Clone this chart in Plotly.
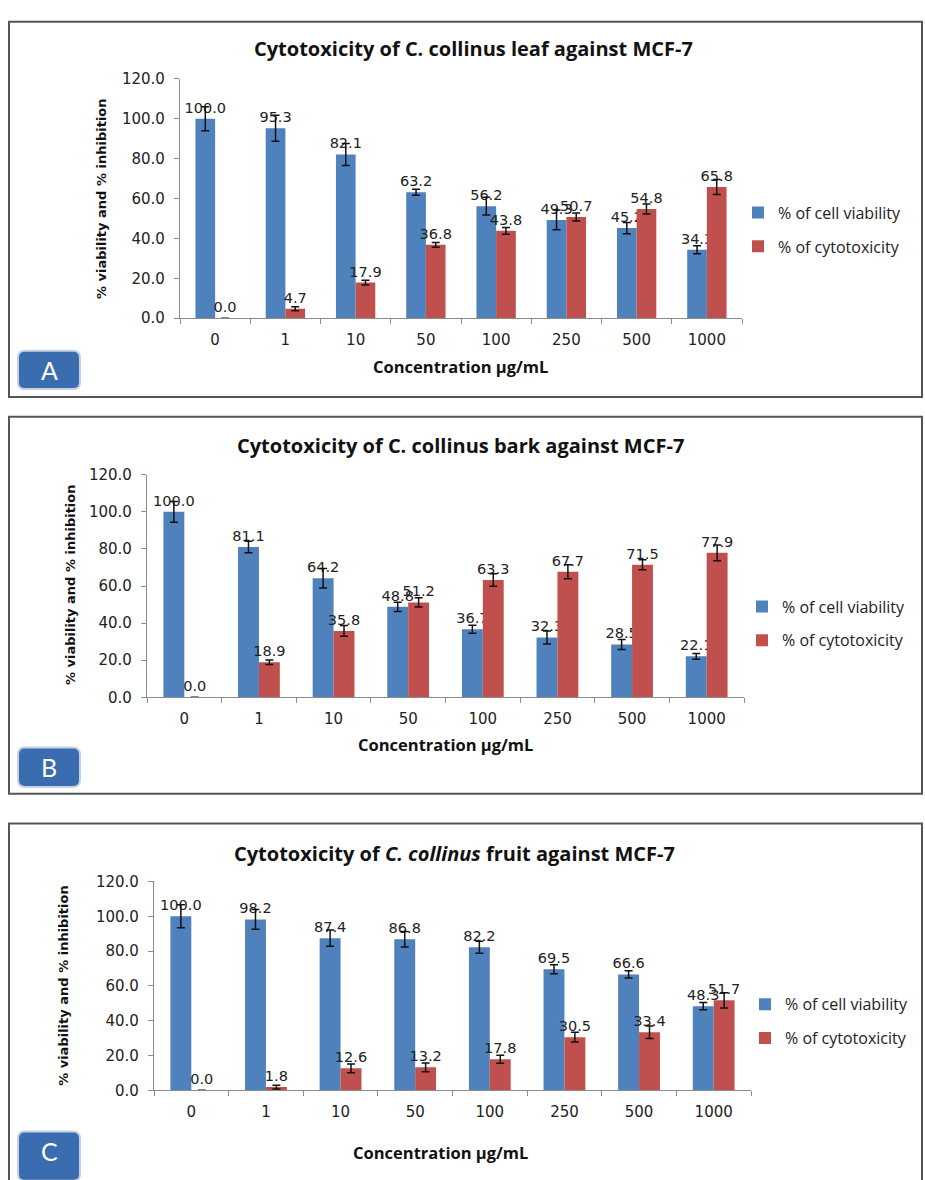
import plotly.graph_objects as go

# Concentrations tested (µg/mL)
concentrations = ["0", "1", "10", "50", "100", "250", "500", "1000"]

# Panel A – leaf extract
leaf_viability = [100.0, 95.3, 82.1, 63.2, 56.2, 49.3, 45.2, 34.3]
leaf_viability_err = [6.0, 6.5, 5.5, 1.5, 4.4, 5.0, 2.8, 2.0]
leaf_cytotox = [0.0, 4.7, 17.9, 36.8, 43.8, 50.7, 54.8, 65.8]
leaf_cytotox_err = [0.0, 1.0, 1.2, 1.2, 1.7, 2.0, 2.5, 3.7]

# Panel B – bark extract
bark_viability = [100.0, 81.1, 64.2, 48.8, 36.7, 32.3, 28.5, 22.1]
bark_viability_err = [5.6, 3.1, 5.2, 2.5, 2.2, 3.5, 2.7, 1.5]
bark_cytotox = [0.0, 18.9, 35.8, 51.2, 63.3, 67.7, 71.5, 77.9]
bark_cytotox_err = [0.0, 1.2, 2.9, 2.5, 3.4, 3.8, 2.7, 4.2]

# Panel C – fruit extract
fruit_viability = [100.0, 98.2, 87.4, 86.8, 82.2, 69.5, 66.6, 48.3]
fruit_viability_err = [6.6, 5.7, 4.7, 4.5, 3.5, 2.6, 2.1, 2.1]
fruit_cytotox = [0.0, 1.8, 12.6, 13.2, 17.8, 30.5, 33.4, 51.7]
fruit_cytotox_err = [0.0, 1.1, 2.5, 2.5, 2.3, 2.8, 3.6, 4.4]

titles = [
    "Cytotoxicity of C. collinus leaf against MCF-7",
    "Cytotoxicity of C. collinus bark against MCF-7",
    "Cytotoxicity of <i>C. collinus</i> fruit against MCF-7",
]
panel_letters = ["A", "B", "C"]
series_names = ["% of cell viability", "% of cytotoxicity"]
y_ticks = [0, 20, 40, 60, 80, 100, 120]

W, H = 925, 1180
BLUE = "#4f81bd"
RED = "#c0504d"
NUM_FONT = "DejaVu Sans"
TXT_FONT = "Open Sans"


def px(x):
    return x / W


def py(y):
    return 1 - y / H


# pixel layout of each panel: plot area, frame, title, legend, letter box
panels = [
    dict(plot=(180, 742, 71, 314), frame=(9, 922, 13, 394), title=(473, 40),
         xtitle=(460, 363), ytitle=(101, 193), legend=(738, 224), box=(18, 80, 347, 386)),
    dict(plot=(147, 744, 473, 699), frame=(9, 922, 414, 797), title=(460, 443),
         xtitle=(445, 747), ytitle=(70, 585), legend=(742, 624), box=(18, 80, 750, 790)),
    dict(plot=(154, 751, 886, 1098), frame=(9, 922, 827, 1200), title=(454, 858),
         xtitle=(440, 1161), ytitle=(64, 992), legend=(745, 1028), box=(18, 80, 1140, 1190)),
]

data = [
    (leaf_viability, leaf_viability_err, leaf_cytotox, leaf_cytotox_err),
    (bark_viability, bark_viability_err, bark_cytotox, bark_cytotox_err),
    (fruit_viability, fruit_viability_err, fruit_cytotox, fruit_cytotox_err),
]

fig = go.Figure()
shapes = []
annotations = []
layout_extra = {}


def label(text, x, y, font, angle=0):
    return dict(text=text, x=px(x), y=py(y), xref="paper", yref="paper",
                xanchor="center", yanchor="middle", showarrow=False,
                textangle=angle, font=font)


for i, (p, (via, via_err, cyt, cyt_err)) in enumerate(zip(panels, data)):
    n = i + 1
    xa = "x" if n == 1 else f"x{n}"
    ya = "y" if n == 1 else f"y{n}"
    leg = "legend" if n == 1 else f"legend{n}"
    for name, vals, errs, color in [
        (series_names[0], via, via_err, BLUE),
        (series_names[1], cyt, cyt_err, RED),
    ]:
        fig.add_trace(go.Bar(
            x=concentrations, y=vals, name=name, marker_color=color,
            marker_line_width=0,
            error_y=dict(type="data", array=errs, visible=True, color="#111111",
                         thickness=1.5, width=4),
            texttemplate="%{y:.1f}", textposition="outside",
            textfont=dict(family=NUM_FONT, size=14.5, color="#222222"),
            constraintext="none", cliponaxis=False,
            xaxis=xa, yaxis=ya, legend=leg, legendgroup=f"{n}{name}",
        ))

    x0, x1, y0, y1 = p["plot"]
    layout_extra["xaxis" if n == 1 else f"xaxis{n}"] = dict(
        domain=[px(x0), px(x1)], anchor=ya, type="category",
        showline=True, linecolor="#8c8c8c", linewidth=1.2,
        ticks="outside", ticklen=5, tickcolor="#8c8c8c", tickson="boundaries",
        tickfont=dict(family=NUM_FONT, size=15, color="#222222"),
        ticklabelstandoff=8, showgrid=False, zeroline=False,
    )
    layout_extra["yaxis" if n == 1 else f"yaxis{n}"] = dict(
        domain=[py(y1), py(y0)], anchor=xa, range=[0, 120],
        tickvals=y_ticks, tickformat=".1f",
        showline=True, linecolor="#8c8c8c", linewidth=1.2,
        ticks="outside", ticklen=5, tickcolor="#8c8c8c",
        tickfont=dict(family=NUM_FONT, size=15, color="#222222"),
        ticklabelstandoff=6, showgrid=False, zeroline=False,
    )
    lx, lyc = p["legend"]
    layout_extra[leg] = dict(
        x=px(lx), y=py(lyc), xanchor="left", yanchor="middle",
        xref="paper", yref="paper", bgcolor="rgba(0,0,0,0)",
        font=dict(family=TXT_FONT, size=16, color="#222222"),
        tracegroupgap=10, traceorder="grouped", itemwidth=30,
    )

    # panel frame
    fx0, fx1, fy0, fy1 = p["frame"]
    shapes.append(dict(type="rect", xref="paper", yref="paper",
                       x0=px(fx0), x1=px(fx1), y0=py(fy1), y1=py(fy0),
                       line=dict(color="#555555", width=2), layer="below"))

    # rounded letter box
    bx0, bx1, by0, by1 = p["box"]
    r = 7
    path = (f"M {px(bx0 + r)},{py(by0)} L {px(bx1 - r)},{py(by0)} "
            f"Q {px(bx1)},{py(by0)} {px(bx1)},{py(by0 + r)} "
            f"L {px(bx1)},{py(by1 - r)} Q {px(bx1)},{py(by1)} {px(bx1 - r)},{py(by1)} "
            f"L {px(bx0 + r)},{py(by1)} Q {px(bx0)},{py(by1)} {px(bx0)},{py(by1 - r)} "
            f"L {px(bx0)},{py(by0 + r)} Q {px(bx0)},{py(by0)} {px(bx0 + r)},{py(by0)} Z")
    shapes.append(dict(type="path", xref="paper", yref="paper", path=path,
                       fillcolor="#3a6cb0", line=dict(color="#c8d2de", width=2)))
    letter_y = (by0 + min(by1, 1180)) / 2
    annotations.append(label(panel_letters[i], (bx0 + bx1) / 2, letter_y,
                             dict(family="Lato", size=25, color="white")))

    # titles
    tx, ty = p["title"]
    annotations.append(label(titles[i], tx, ty,
                             dict(family=TXT_FONT, size=20, color="#111111", weight="bold")))
    xtx, xty = p["xtitle"]
    annotations.append(label("Concentration µg/mL", xtx, xty,
                             dict(family=TXT_FONT, size=16.5, color="#111111", weight="bold")))
    ytx, yty = p["ytitle"]
    annotations.append(label("% viability and % inhibition", ytx, yty,
                             dict(family=NUM_FONT, size=13, color="#111111", weight="bold"),
                             angle=-90))

fig.update_layout(
    width=W, height=H, margin=dict(l=0, r=0, t=0, b=0),
    paper_bgcolor="white", plot_bgcolor="white",
    barmode="group", bargap=0.44, bargroupgap=0,
    showlegend=True, shapes=shapes, annotations=annotations,
    **layout_extra,
)

fig.write_html("out.html")
